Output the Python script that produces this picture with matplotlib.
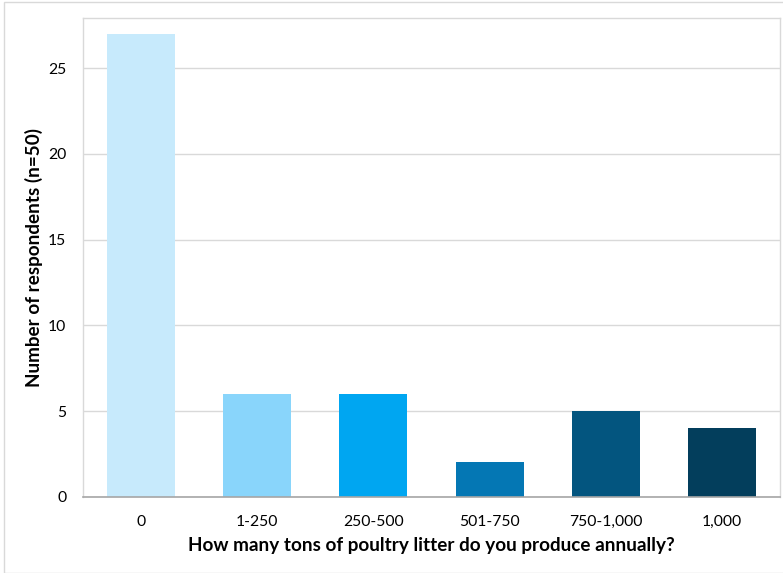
import matplotlib
matplotlib.use("Agg")
import matplotlib.pyplot as plt
from matplotlib.patches import Rectangle

# survey answers: tons of poultry litter produced per year
categories = ["0", "1-250", "250-500", "501-750", "750-1,000", "1,000"]
respondents = [27, 6, 6, 2, 5, 4]
bar_colors = ["#C7EAFC", "#89D5FB", "#00A6F1", "#0477B4", "#03557F", "#033E5C"]
y_ticks = [0, 5, 10, 15, 20, 25]

plt.rcParams["font.family"] = ["Lato", "DejaVu Sans"]

fig = plt.figure(figsize=(7.83, 5.73), dpi=100)
W, H = 783, 573
ax = fig.add_axes([83 / W, 76.3 / H, 697 / W, 479 / H])

x = range(len(categories))
ax.bar(x, respondents, width=0.585, color=bar_colors, zorder=3)

ax.set_xlim(-0.5, len(categories) - 0.5)
ax.set_ylim(0, 27.95)
ax.set_yticks(y_ticks)
ax.set_xticks(list(x))
ax.set_xticklabels(categories)
ax.tick_params(axis="both", length=0, labelsize=11.3, colors="#000000")
ax.tick_params(axis="x", pad=13)
ax.tick_params(axis="y", pad=12)
ax.grid(axis="y", color="#D9D9D9", linewidth=1, zorder=0)

for side in ["top", "left", "right"]:
    ax.spines[side].set_color("#D9D9D9")
    ax.spines[side].set_linewidth(1)
ax.spines["bottom"].set_color("#A6A6A6")
ax.spines["bottom"].set_linewidth(1.2)
ax.spines["bottom"].set_zorder(4)

ax.set_xlabel("How many tons of poultry litter do you produce annually?",
              fontsize=13.6, fontweight="bold", labelpad=6)
ax.set_ylabel("Number of respondents (n=50)", fontsize=13.6, fontweight="bold",
              labelpad=4)

# thin frame round the whole chart
fig.patches.append(Rectangle((3.5 / W, 0), 1, 1 - 1.5 / H, transform=fig.transFigure,
                             fill=False, edgecolor="#D9D9D9", linewidth=1))

fig.savefig("out.png", dpi=100)
